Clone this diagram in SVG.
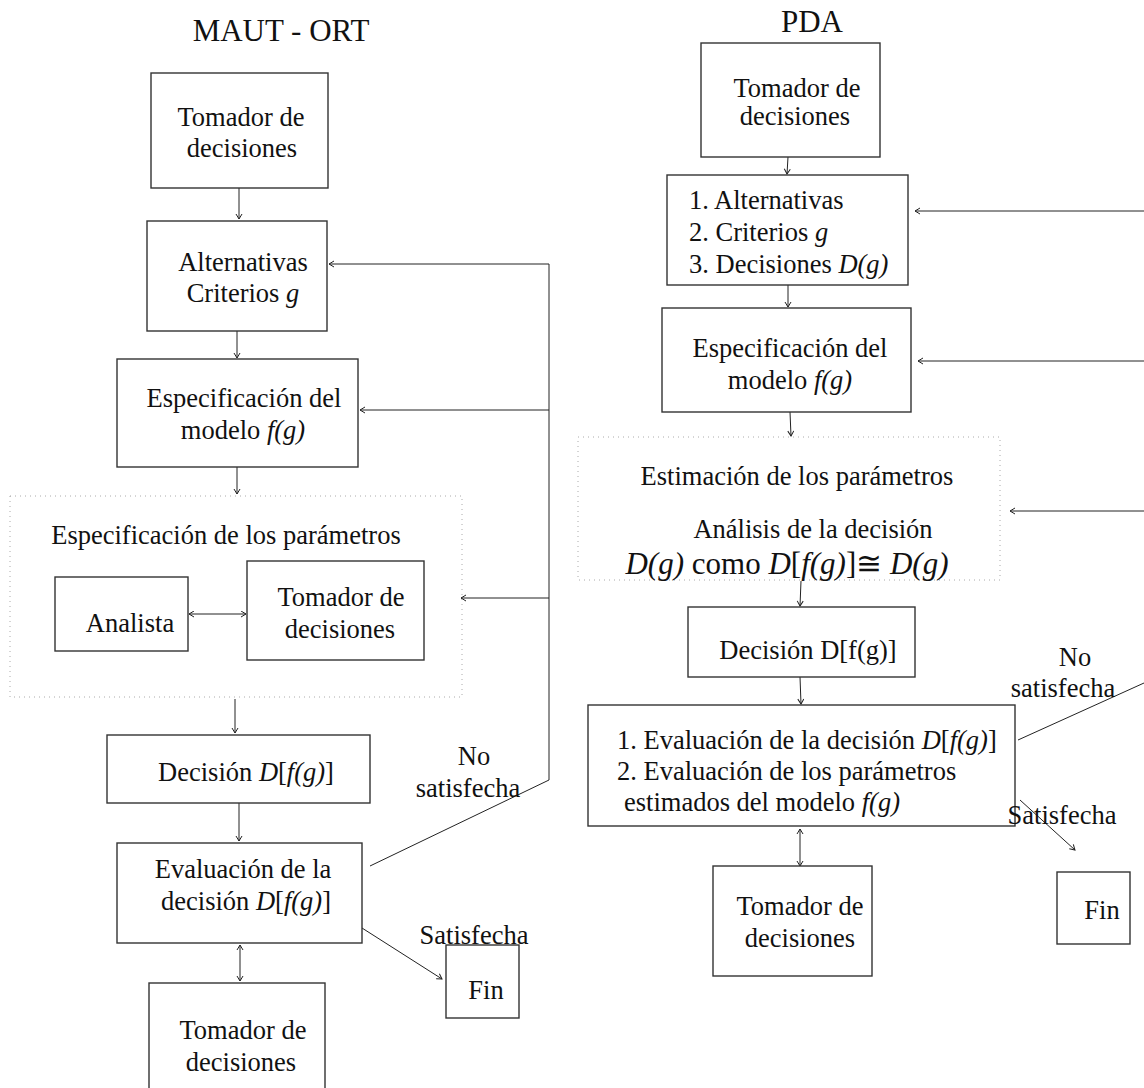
<svg xmlns="http://www.w3.org/2000/svg" width="1144" height="1088" viewBox="0 0 1144 1088">
<defs>
<style>
text{font-family:"Liberation Serif","Times New Roman",serif;font-size:26.5px;fill:#111;}
.c{text-anchor:middle;}
.i{font-style:italic;}
.box{fill:#fff;stroke:#333;stroke-width:1.4;}
.dot{fill:none;stroke:#aaa;stroke-width:1;stroke-dasharray:1 4;}
.ln{fill:none;stroke:#222;stroke-width:1;}
.ar{fill:none;stroke:#222;stroke-width:1;marker-end:url(#ah);}
.ar2{fill:none;stroke:#222;stroke-width:1;marker-end:url(#ah);marker-start:url(#ahs);}
</style>
<marker id="ah" markerWidth="8" markerHeight="8" refX="6" refY="3.5" orient="auto" markerUnits="userSpaceOnUse"><path d="M1,0.5 L6,3.5 L1,6.5" fill="none" stroke="#222" stroke-width="1"/></marker>
<marker id="ahs" markerWidth="8" markerHeight="8" refX="1" refY="3.5" orient="auto" markerUnits="userSpaceOnUse"><path d="M6,0.5 L1,3.5 L6,6.5" fill="none" stroke="#222" stroke-width="1"/></marker>
</defs>
<rect width="1144" height="1088" fill="#fff"/>

<text class="c" x="281" y="41" style="font-size:31px">MAUT - ORT</text>
<text class="c" x="812" y="32" style="font-size:31px">PDA</text>

<g id="conn">
<line class="ar" x1="239" y1="188" x2="239" y2="219"/>
<line class="ar" x1="237" y1="331" x2="237" y2="358"/>
<line class="ar" x1="237" y1="467" x2="237" y2="494"/>
<line class="ar2" x1="189" y1="614" x2="246" y2="614"/>
<line class="ar" x1="235" y1="699" x2="235" y2="733"/>
<line class="ar" x1="239" y1="803" x2="239" y2="841"/>
<line class="ar2" x1="240" y1="945" x2="240" y2="981"/>
<line class="ar" x1="362" y1="928" x2="442" y2="979"/>
<polyline class="ln" points="370,866 549,780 549,264"/>
<line class="ar" x1="549" y1="264" x2="329" y2="264"/>
<line class="ar" x1="549" y1="410" x2="360" y2="410"/>
<line class="ar" x1="549" y1="598" x2="461" y2="598"/>

<line class="ar" x1="788" y1="157" x2="787" y2="174"/>
<line class="ar" x1="788" y1="285" x2="788" y2="307"/>
<line class="ar" x1="790" y1="412" x2="791" y2="436"/>
<line class="ar" x1="801" y1="581" x2="800" y2="606"/>
<line class="ar" x1="800" y1="677" x2="801" y2="704"/>
<line class="ar2" x1="800" y1="829" x2="800" y2="866"/>
<line class="ar" x1="1020" y1="800" x2="1075" y2="850"/>
<line class="ln" x1="1018" y1="740" x2="1144" y2="683"/>
<line class="ar" x1="1144" y1="211" x2="915" y2="211"/>
<line class="ar" x1="1144" y1="361" x2="918" y2="361"/>
<line class="ar" x1="1144" y1="511" x2="1010" y2="511"/>
</g>

<g id="L1"><rect class="box" x="151" y="73" width="177" height="115"/>
<text class="c" x="241" y="126">Tomador de</text><text class="c" x="242" y="157">decisiones</text></g>
<g id="L2"><rect class="box" x="147" y="221" width="180" height="110"/>
<text class="c" x="243" y="271">Alternativas</text><text class="c" x="243" y="302">Criterios <tspan class="i">g</tspan></text></g>
<g id="L3"><rect class="box" x="117" y="359" width="241" height="108"/>
<text class="c" x="244" y="407">Especificación del</text><text class="c" x="243" y="439">modelo <tspan class="i">f(g)</tspan></text></g>
<g id="L4"><rect class="dot" x="10" y="496" width="452" height="201"/>
<text class="c" x="226" y="544">Especificación de los parámetros</text></g>
<g id="L5"><rect class="box" x="55" y="577" width="133" height="74"/>
<text class="c" x="130" y="632">Analista</text></g>
<g id="L6"><rect class="box" x="247" y="561" width="177" height="99"/>
<text class="c" x="341" y="606">Tomador de</text><text class="c" x="340" y="638">decisiones</text></g>
<g id="L7"><rect class="box" x="107" y="735" width="263" height="68"/>
<text class="c" x="246" y="781">Decisión <tspan class="i">D</tspan>[<tspan class="i">f(g)</tspan>]</text></g>
<g id="L8"><rect class="box" x="117" y="843" width="245" height="100"/>
<text class="c" x="243" y="878">Evaluación de la</text><text class="c" x="246" y="910">decisión <tspan class="i">D</tspan>[<tspan class="i">f(g)</tspan>]</text></g>
<g id="L9"><rect class="box" x="149" y="983" width="176" height="110"/>
<text class="c" x="243" y="1039">Tomador de</text><text class="c" x="241" y="1071">decisiones</text></g>
<g id="L10"><rect class="box" x="446" y="945" width="73" height="73"/>
<text class="c" x="486" y="999">Fin</text></g>
<g id="Llab"><text class="c" x="474" y="944">Satisfecha</text>
<text class="c" x="474" y="765">No</text><text class="c" x="468" y="797">satisfecha</text></g>

<g id="R1"><rect class="box" x="701" y="43" width="179" height="114"/>
<text class="c" x="797" y="97">Tomador de</text><text class="c" x="795" y="125">decisiones</text></g>
<g id="R2"><rect class="box" x="667" y="175" width="241" height="110"/>
<text x="689" y="209">1. Alternativas</text><text x="689" y="241">2. Criterios <tspan class="i">g</tspan></text><text x="689" y="273">3. Decisiones <tspan class="i">D(g)</tspan></text></g>
<g id="R3"><rect class="box" x="662" y="308" width="249" height="104"/>
<text class="c" x="790" y="357">Especificación del</text><text class="c" x="790" y="389">modelo <tspan class="i">f(g)</tspan></text></g>
<g id="R4"><rect class="dot" x="578" y="437" width="422" height="143"/>
<text class="c" x="797" y="485">Estimación de los parámetros</text>
<text class="c" x="813" y="538">Análisis de la decisión</text>
<text class="c" x="787" y="574" style="font-size:31px"><tspan class="i">D(g)</tspan> como <tspan class="i">D</tspan>[<tspan class="i">f(g)</tspan>]≅ <tspan class="i">D(g)</tspan></text></g>
<g id="R5"><rect class="box" x="688" y="607" width="227" height="70"/>
<text class="c" x="808" y="659">Decisión D[f(g)]</text></g>
<g id="R6"><rect class="box" x="588" y="705" width="427" height="121"/>
<text x="617" y="749">1. Evaluación de la decisión <tspan class="i">D</tspan>[<tspan class="i">f(g)</tspan>]</text>
<text x="617" y="780">2. Evaluación de los parámetros</text>
<text x="624" y="811">estimados del modelo <tspan class="i">f(g)</tspan></text></g>
<g id="R7"><rect class="box" x="713" y="866" width="159" height="110"/>
<text class="c" x="800" y="915">Tomador de</text><text class="c" x="800" y="947">decisiones</text></g>
<g id="R8"><rect class="box" x="1057" y="872" width="73" height="72"/>
<text class="c" x="1102" y="919">Fin</text></g>
<g id="Rlab"><text class="c" x="1062" y="824">Satisfecha</text>
<text class="c" x="1075" y="666">No</text><text class="c" x="1063" y="697">satisfecha</text></g>
</svg>
